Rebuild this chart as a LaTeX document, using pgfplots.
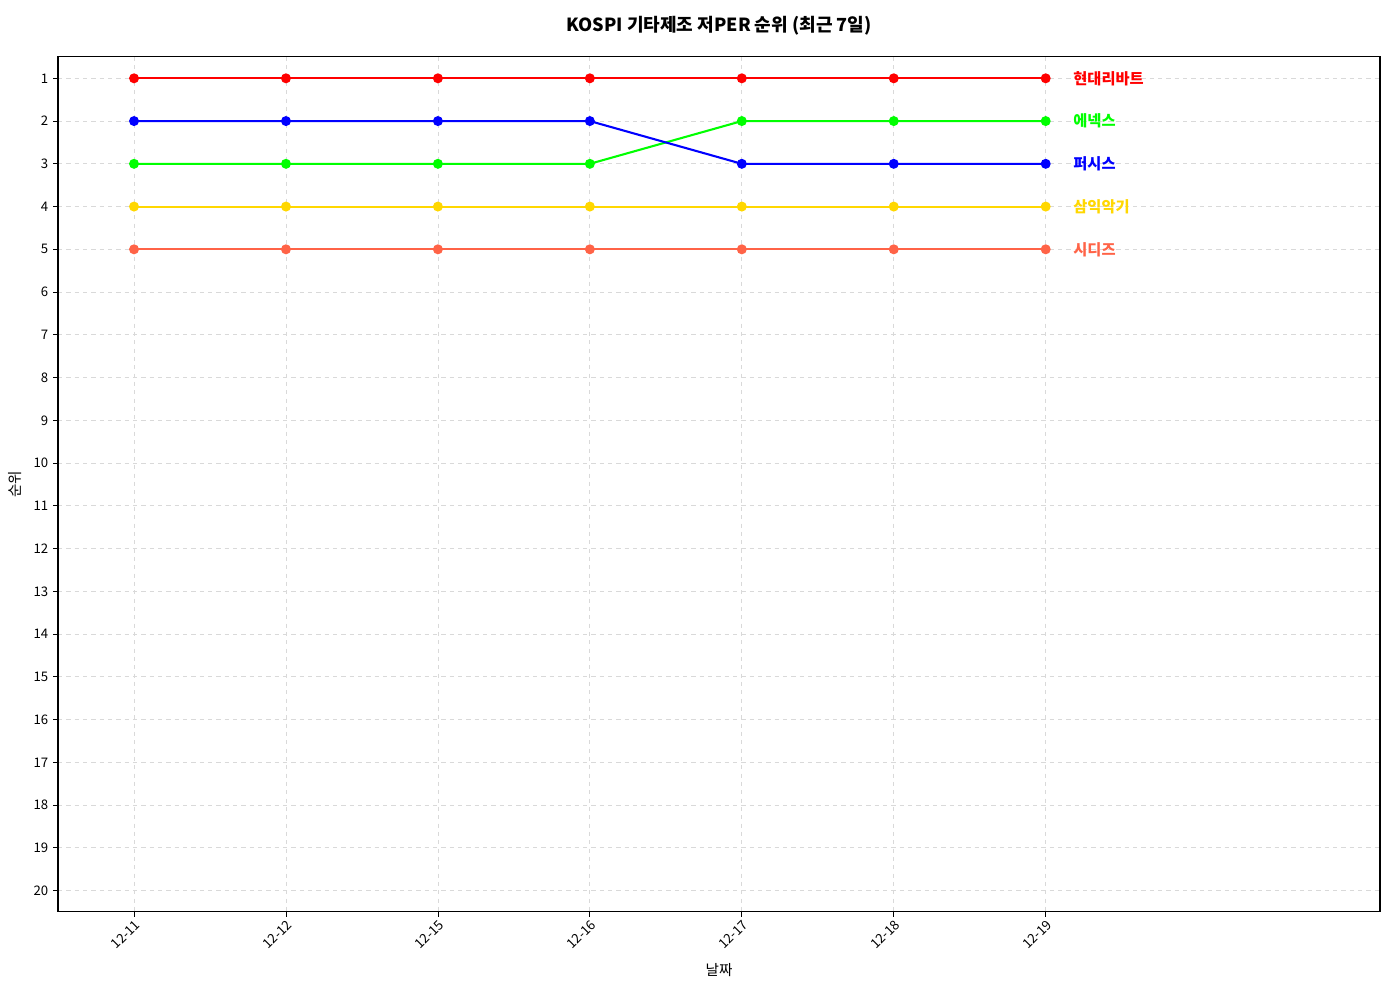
\documentclass[border=0pt]{standalone}
\usepackage{pgfplots}
\pgfplotsset{compat=1.18}
\usepackage{fontspec}
\setmainfont{Noto Sans CJK KR}
\usetikzlibrary{calc}
\definecolor{cRed}{HTML}{FF0000}
\definecolor{cLime}{HTML}{00FF00}
\definecolor{cBlue}{HTML}{0000FF}
\definecolor{cGold}{HTML}{FFD700}
\definecolor{cTomato}{HTML}{FF6347}
\definecolor{gridc}{HTML}{D9D9D9}
\begin{document}
\begin{tikzpicture}
\begin{axis}[
  name=ax,
  scale only axis,
  width=951.8pt, height=615.6pt,
  xmin=-0.5, xmax=8.2,
  ymin=0.5, ymax=20.5,
  y dir=reverse,
  xtick={0,1,2,3,4,5,6},
  xticklabels={12-11,12-12,12-15,12-16,12-17,12-18,12-19},
  x tick label style={rotate=45, anchor=north east, inner sep=1pt, font=\fontsize{9.5}{10}\selectfont},
  ytick={1,...,20},
  y tick label style={font=\fontsize{9.5}{10}\selectfont},
  /pgf/number format/assume math mode=true,
  tick align=outside,
  tick style={black, line width=0.6pt},
  major tick length=3.5pt,
  xtick pos=bottom, ytick pos=left,
  grid=major,
  major grid style={gridc, dashed, line width=0.6pt},
  axis line style={black, line width=0.8pt},
  xlabel={날짜}, ylabel={순위},
  label style={font=\fontsize{10.5}{12}\selectfont},
  xlabel style={at={(axis description cs:0.5,-0.0682)}, anchor=center},
  ylabel style={at={(axis description cs:-0.0326,0.5)}, anchor=center},
  title={\bfseries KOSPI 기타제조 저PER 순위 (최근 7일)},
  title style={font=\fontsize{13}{15}\selectfont, yshift=6pt},
  every axis plot/.append style={line width=1.5pt, mark=*, mark size=2.8pt},
]
\addplot[cRed, mark options={fill=cRed}] coordinates {(0,1)(1,1)(2,1)(3,1)(4,1)(5,1)(6,1)};
\addplot[cLime, mark options={fill=cLime}] coordinates {(0,3)(1,3)(2,3)(3,3)(4,2)(5,2)(6,2)};
\addplot[cBlue, mark options={fill=cBlue}] coordinates {(0,2)(1,2)(2,2)(3,2)(4,3)(5,3)(6,3)};
\addplot[cGold, mark options={fill=cGold}] coordinates {(0,4)(1,4)(2,4)(3,4)(4,4)(5,4)(6,4)};
\addplot[cTomato, mark options={fill=cTomato}] coordinates {(0,5)(1,5)(2,5)(3,5)(4,5)(5,5)(6,5)};
\node[anchor=west, text=cRed, font=\fontsize{11}{12}\selectfont\bfseries] at (axis cs:6.15,1) {현대리바트};
\node[anchor=west, text=cLime, font=\fontsize{11}{12}\selectfont\bfseries] at (axis cs:6.15,2) {에넥스};
\node[anchor=west, text=cBlue, font=\fontsize{11}{12}\selectfont\bfseries] at (axis cs:6.15,3) {퍼시스};
\node[anchor=west, text=cGold, font=\fontsize{11}{12}\selectfont\bfseries] at (axis cs:6.15,4) {삼익악기};
\node[anchor=west, text=cTomato, font=\fontsize{11}{12}\selectfont\bfseries] at (axis cs:6.15,5) {시디즈};
\end{axis}
\pgfresetboundingbox
\path[use as bounding box] ($(ax.south west)+(-41.8pt,-56.2pt)$) rectangle ($(ax.north east)+(6.5pt,41pt)$);
\end{tikzpicture}
\end{document}
